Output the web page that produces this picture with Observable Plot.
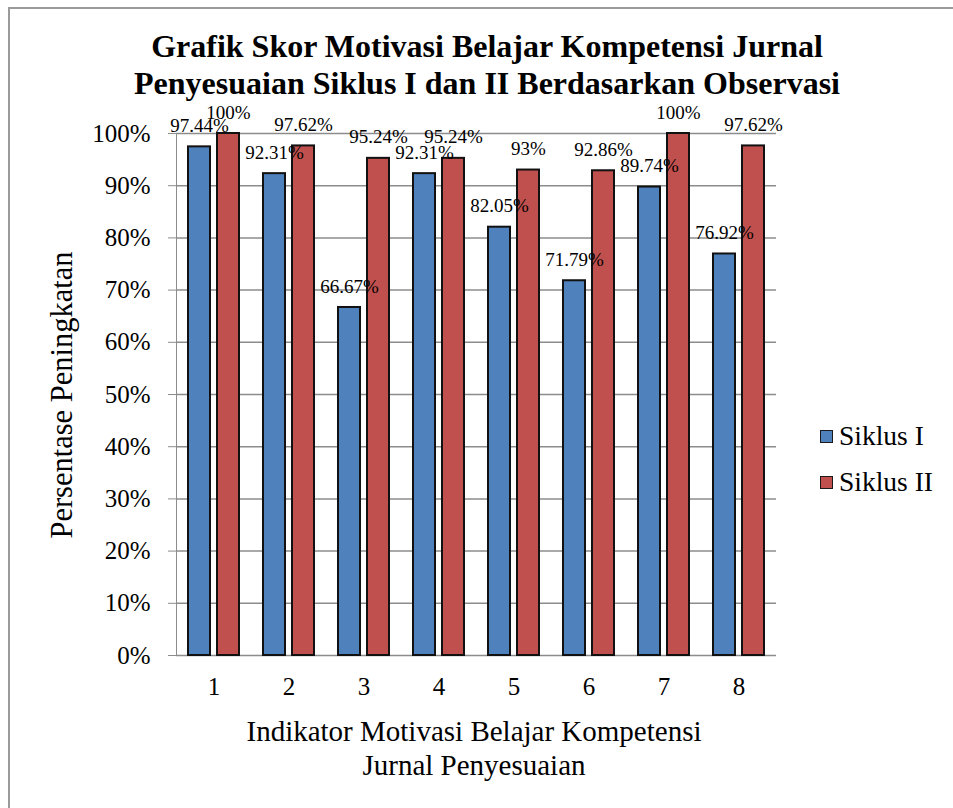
<!DOCTYPE html>
<html><head><meta charset="utf-8">
<script src="https://cdn.jsdelivr.net/npm/d3@7"></script>
<script src="https://cdn.jsdelivr.net/npm/@observablehq/plot@0.6"></script>
<style>
body{margin:0;background:#fff;}
#wrap{position:relative;width:953px;height:808px;overflow:hidden;font-family:"Liberation Serif","Times New Roman",serif;color:#000;}
#chart{position:absolute;left:0;top:0;}
#chart svg, #chart svg text, #chart svg g{font-family:"Liberation Serif","Times New Roman",serif !important;}
#chart svg text{fill:#000;}
.bl{position:absolute;background:#9a9a9a;}
#title{position:absolute;left:0;top:28px;width:974px;text-align:center;font-weight:bold;font-size:32px;line-height:37px;}
#xtitle{position:absolute;left:0;top:714px;width:948px;text-align:center;font-size:29px;line-height:34px;}
#ytitle{position:absolute;left:62px;top:395px;transform:translate(-50%,-50%) rotate(-90deg);white-space:nowrap;font-size:30.5px;}
.leg{position:absolute;left:820px;font-size:27.5px;line-height:30px;display:flex;align-items:center;white-space:nowrap;}
.sw{width:11px;height:11px;border:1.5px solid #1a1a1a;margin-right:6px;}
</style></head>
<body>
<div id="wrap">
  <div class="bl" style="left:8px;top:7px;width:2px;height:801px"></div>
  <div class="bl" style="left:8px;top:7px;width:945px;height:2px"></div>
  <div id="chart"></div>
  <div id="title">Grafik Skor Motivasi Belajar Kompetensi Jurnal<br>Penyesuaian Siklus I dan II Berdasarkan Observasi</div>
  <div id="ytitle">Persentase Peningkatan</div>
  <div id="xtitle">Indikator Motivasi Belajar Kompetensi<br>Jurnal Penyesuaian</div>
  <div id="legend"></div>
</div>
<script>
// ---- data ----
const categories = ["1", "2", "3", "4", "5", "6", "7", "8"];
const seriesNames = ["Siklus I", "Siklus II"];
const siklusI = [97.44, 92.31, 66.67, 92.31, 82.05, 71.79, 89.74, 76.92];
const siklusII = [100, 97.62, 95.24, 95.24, 93, 92.86, 100, 97.62];
const seriesColors = ["#4F81BD", "#C0504D"];
const yTicks = [0, 10, 20, 30, 40, 50, 60, 70, 80, 90, 100];

const rows = [];
categories.forEach((c, i) => {
  rows.push({cat: c, series: seriesNames[0], value: siklusI[i]});
  rows.push({cat: c, series: seriesNames[1], value: siklusII[i]});
});

const chart = Plot.plot({
  width: 953,
  height: 808,
  marginLeft: 174,
  marginRight: 176,
  marginTop: 133,
  marginBottom: 153,
  style: {color: "#8c8c8c", background: "transparent", fontFamily: "'Liberation Serif', serif", fontSize: "25px"},
  facet: {data: rows, x: "cat", marginTop: 0, marginBottom: 0, marginLeft: 0, marginRight: 0},
  fx: {domain: categories, padding: 0, tickSize: 0, tickPadding: 22, label: null},
  x: {domain: seriesNames, paddingInner: 0.25, paddingOuter: 0.4, axis: null},
  y: {domain: [0, 100], ticks: yTicks, tickFormat: d => d + "%", tickSize: 8, tickPadding: 18, line: true, label: null},
  color: {domain: seriesNames, range: seriesColors},
  marks: [
    Plot.ruleY(yTicks, {stroke: "#8c8c8c", strokeWidth: 1.5}),
    Plot.barY(rows, {x: "series", y: "value", fill: "series", stroke: "#111", strokeWidth: 2}),
    Plot.text(rows, {x: "series", y: "value", text: d => d.value + "%", dy: -21, fill: "#000", fontSize: 19})
  ]
});
document.getElementById("chart").appendChild(chart);

const legend = document.getElementById("legend");
seriesNames.forEach((s, i) => {
  const d = document.createElement("div");
  d.className = "leg";
  d.style.top = (421 + i * 46) + "px";
  d.innerHTML = `<span class="sw" style="background:${seriesColors[i]}"></span><span>${s}</span>`;
  legend.appendChild(d);
});
</script>
</body></html>
